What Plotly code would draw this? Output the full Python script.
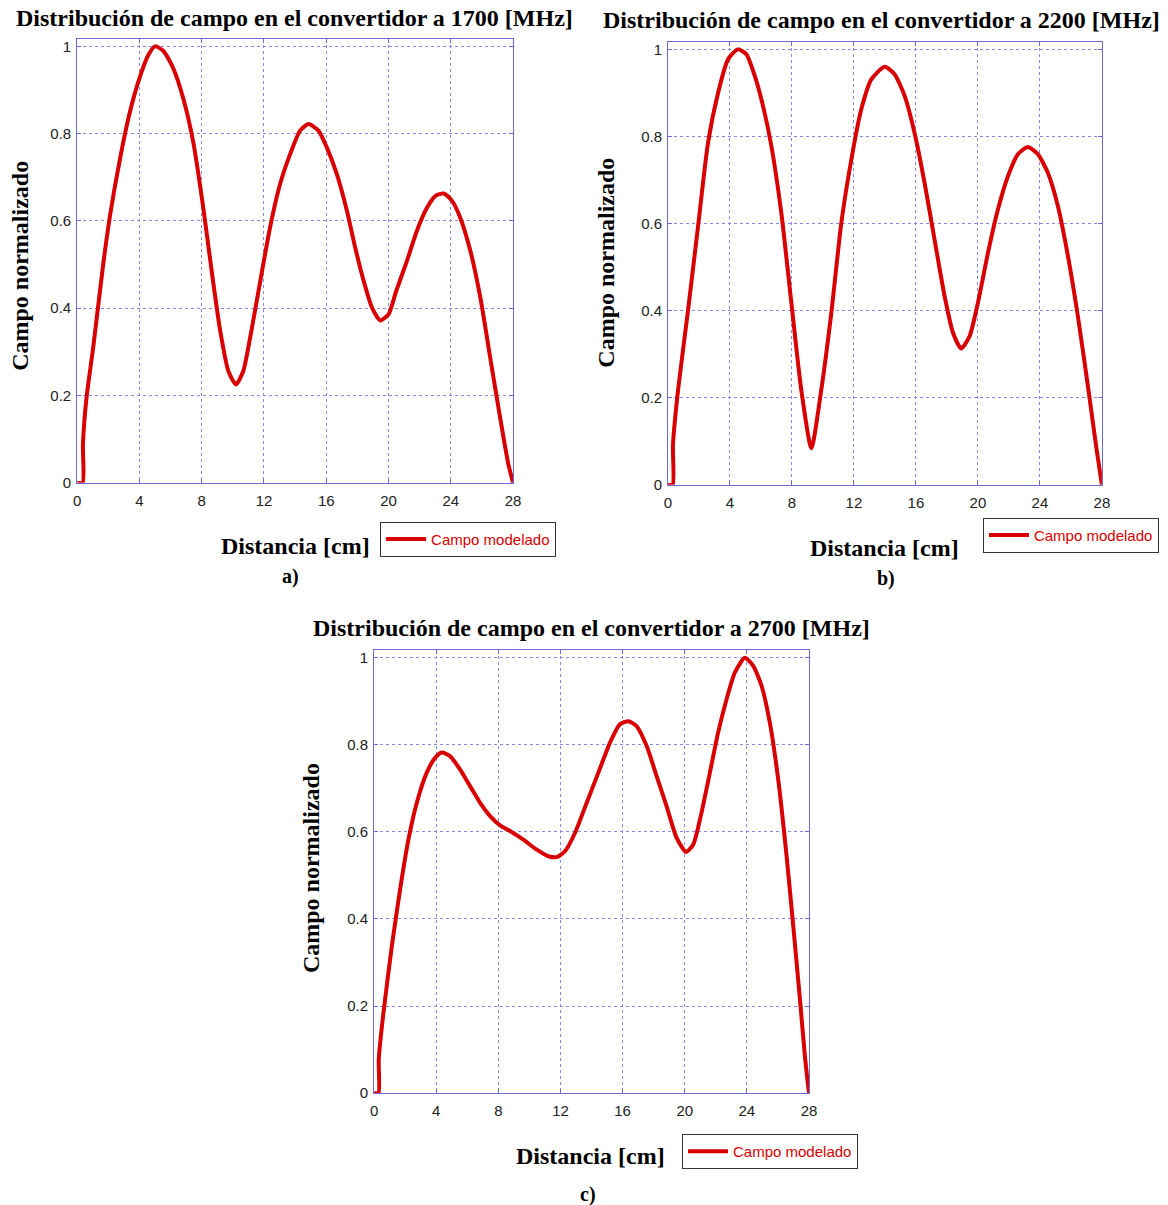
import plotly.graph_objects as go

W, H = 1168, 1205

# ---------------- data ----------------
x_1700 = [0, 0.35, 0.37, 0.6, 1.03, 1.67, 2.1, 2.74, 3.39, 4.03, 4.57, 5.0, 5.53, 6.17, 6.82, 7.46,
          8.1, 8.64, 9.18, 9.71, 10.2, 10.67, 11.2, 11.75, 12.39, 13.03, 13.68, 14.32, 14.86, 15.5,
          16.04, 16.68, 17.33, 17.86, 18.4, 18.94, 19.47, 20.0, 20.5, 21.18, 21.82, 22.47, 23.0,
          23.55, 24.08, 24.6, 25.26, 25.9, 26.53, 27.17, 27.7, 28.0]
y_1700 = [0, 0, 0.088, 0.195, 0.31, 0.50, 0.61, 0.74, 0.85, 0.93, 0.98, 1.0, 0.99, 0.95, 0.88, 0.78,
          0.63, 0.485, 0.35, 0.256, 0.225, 0.256, 0.35, 0.46, 0.585, 0.684, 0.753, 0.807, 0.822, 0.807,
          0.768, 0.707, 0.623, 0.539, 0.463, 0.401, 0.372, 0.386, 0.44, 0.508, 0.577, 0.63, 0.657,
          0.663, 0.646, 0.608, 0.531, 0.424, 0.287, 0.149, 0.042, 0.0]

x_2200 = [0, 0.3, 0.32, 0.65, 1.29, 1.94, 2.58, 3.23, 3.87, 4.5, 5.05, 5.59, 6.13, 6.67, 7.31, 7.96,
          8.6, 9.25, 9.89, 10.54, 11.18, 11.83, 12.47, 13.12, 13.98, 14.62, 15.27, 15.91, 16.56, 17.2,
          17.85, 18.39, 18.92, 19.46, 20.0, 20.65, 21.29, 21.94, 22.58, 23.23, 23.87, 24.52, 25.16,
          25.81, 26.45, 27.1, 27.63, 28.0]
y_2200 = [0, 0, 0.092, 0.218, 0.40, 0.594, 0.785, 0.90, 0.977, 1.0, 0.989, 0.94, 0.87, 0.778, 0.625,
          0.418, 0.218, 0.084, 0.218, 0.395, 0.60, 0.747, 0.862, 0.931, 0.96, 0.943, 0.893, 0.808,
          0.693, 0.563, 0.433, 0.349, 0.313, 0.341, 0.418, 0.533, 0.632, 0.709, 0.759, 0.776, 0.759,
          0.716, 0.64, 0.525, 0.387, 0.226, 0.088, 0.0]

x_2700 = [0, 0.28, 0.3, 0.6, 1.14, 1.67, 2.21, 2.75, 3.39, 3.93, 4.36, 4.89, 5.54, 6.18, 6.82, 7.47,
          8.11, 8.75, 9.61, 10.47, 11.22, 11.76, 12.3, 12.94, 13.69, 14.44, 15.19, 15.83, 16.37, 16.9,
          17.55, 18.19, 18.83, 19.48, 20.08, 20.55, 21.08, 21.62, 22.15, 22.69, 23.23, 23.87, 24.41,
          24.95, 25.48, 26.02, 26.56, 26.99, 27.42, 27.74, 28.0]
y_2700 = [0, 0, 0.077, 0.184, 0.337, 0.467, 0.582, 0.667, 0.736, 0.77, 0.782, 0.774, 0.743, 0.705,
          0.667, 0.636, 0.615, 0.602, 0.582, 0.559, 0.544, 0.542, 0.556, 0.598, 0.667, 0.736, 0.805,
          0.847, 0.854, 0.843, 0.797, 0.728, 0.659, 0.586, 0.554, 0.571, 0.644, 0.736, 0.828, 0.904,
          0.966, 1.0, 0.981, 0.935, 0.851, 0.72, 0.544, 0.383, 0.215, 0.084, 0.0]

x_ticks = [0, 4, 8, 12, 16, 20, 24, 28]
y_ticks = [0, 0.2, 0.4, 0.6, 0.8, 1]
y_tick_labels = ["0", "0.2", "0.4", "0.6", "0.8", "1"]

titles = ["Distribución de campo en el convertidor a 1700 [MHz]",
          "Distribución de campo en el convertidor a 2200 [MHz]",
          "Distribución de campo en el convertidor a 2700 [MHz]"]
x_label = "Distancia [cm]"
y_label = "Campo normalizado"
series_name = "Campo modelado"
panel_letters = ["a)", "b)", "c)"]

# ---------------- layout helpers (estimated pixel -> paper fraction) ----------------
def px_x(p):
    return (p - 3.8) / 0.99

def px_y(p):
    return (p - 0.5) / 0.992

def fx(p):
    return px_x(p) / W

def fy(p):
    return 1 - px_y(p) / H

RED = "#d80000"
AXC = "#6b6bd6"
GRIDC = "#8a8ae6"
SERIF = "Liberation Serif, Times New Roman, serif"
SANS = "Liberation Sans, Arial, sans-serif"

# panel geometry (estimated pixels): (left, right, top, bottom)
panels = [(77, 513, 38, 482), (668, 1102, 41, 484), (374, 809, 649, 1092)]
title_pos = [(294, 17), (882, 19), (591, 627)]
xlab_pos = [(295, 545), (885, 547), (590, 1155)]
ylab_pos = [(19, 265), (606, 262), (311, 867)]
letter_pos = [(290, 576), (886, 578), (588, 1193)]
legend_pos = [(380, 521), (983, 517), (682, 1133)]

xs = [x_1700, x_2200, x_2700]
ys = [y_1700, y_2200, y_2700]

fig = go.Figure()
legend_keys = ["legend", "legend2", "legend3"]

for i in range(3):
    suffix = "" if i == 0 else str(i + 1)
    fig.add_trace(go.Scatter(
        x=xs[i], y=ys[i], mode="lines", name=series_name,
        line=dict(color=RED, width=4, shape="spline", smoothing=0.6),
        xaxis="x" + suffix, yaxis="y" + suffix,
        legend=legend_keys[i], showlegend=True,
    ))

layout = dict(
    width=W, height=H, margin=dict(l=0, r=0, t=0, b=0),
    paper_bgcolor="white", plot_bgcolor="white",
    annotations=[],
)

for i, (l, r, t, b) in enumerate(panels):
    suffix = "" if i == 0 else str(i + 1)
    layout["xaxis" + suffix] = dict(
        domain=[fx(l), fx(r)], range=[0, 28], anchor="y" + suffix,
        tickvals=x_ticks, ticktext=[str(v) for v in x_ticks],
        showgrid=True, gridcolor=GRIDC, griddash="dot", gridwidth=1,
        showline=True, linecolor=AXC, linewidth=1, mirror="ticks",
        ticks="inside", ticklen=4, tickcolor=AXC,
        tickfont=dict(family=SANS, size=15, color="#222222"),
        zeroline=False, ticklabelstandoff=4,
    )
    layout["yaxis" + suffix] = dict(
        domain=[fy(b), fy(t)], range=[0, 1.018], anchor="x" + suffix,
        tickvals=y_ticks, ticktext=y_tick_labels,
        showgrid=True, gridcolor=GRIDC, griddash="dot", gridwidth=1,
        showline=True, linecolor=AXC, linewidth=1, mirror="ticks",
        ticks="inside", ticklen=4, tickcolor=AXC,
        tickfont=dict(family=SANS, size=15, color="#222222"),
        zeroline=False, ticklabelstandoff=2,
    )
    lx, ly = legend_pos[i]
    layout[legend_keys[i]] = dict(
        x=fx(lx), y=fy(ly), xanchor="left", yanchor="top",
        bgcolor="white", bordercolor="#333333", borderwidth=1,
        font=dict(family=SANS, size=15, color=RED),
        itemwidth=40, tracegroupgap=0,
    )
    tx, ty = title_pos[i]
    layout["annotations"].append(dict(
        text="<b>" + titles[i] + "</b>", x=fx(tx), y=fy(ty), xref="paper", yref="paper",
        showarrow=False, xanchor="center", yanchor="middle",
        font=dict(family=SERIF, size=24, color="black")))
    ax_, ay_ = xlab_pos[i]
    layout["annotations"].append(dict(
        text="<b>" + x_label + "</b>", x=fx(ax_), y=fy(ay_), xref="paper", yref="paper",
        showarrow=False, xanchor="center", yanchor="middle",
        font=dict(family=SERIF, size=24, color="black")))
    yx_, yy_ = ylab_pos[i]
    layout["annotations"].append(dict(
        text="<b>" + y_label + "</b>", x=fx(yx_), y=fy(yy_), xref="paper", yref="paper",
        showarrow=False, xanchor="center", yanchor="middle", textangle=-90,
        font=dict(family=SERIF, size=24, color="black")))
    px_, py_ = letter_pos[i]
    layout["annotations"].append(dict(
        text="<b>" + panel_letters[i] + "</b>", x=fx(px_), y=fy(py_), xref="paper", yref="paper",
        showarrow=False, xanchor="center", yanchor="middle",
        font=dict(family=SERIF, size=20, color="black")))

fig.update_layout(**layout)
fig.write_html(
    "out.html",
    config={"displayModeBar": False},
    post_script="document.body.style.margin='0px';document.body.style.overflow='hidden';",
)
